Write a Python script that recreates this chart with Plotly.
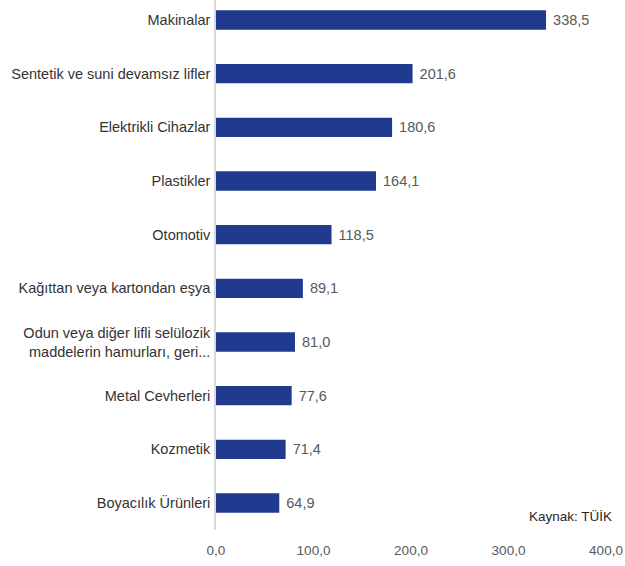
import plotly.graph_objects as go

categories = [
    "Makinalar",
    "Sentetik ve suni devamsız lifler",
    "Elektrikli Cihazlar",
    "Plastikler",
    "Otomotiv",
    "Kağıttan veya kartondan eşya",
    "Odun veya diğer lifli selülozik<br>maddelerin hamurları, geri...",
    "Metal Cevherleri",
    "Kozmetik",
    "Boyacılık Ürünleri",
]
values = [338.5, 201.6, 180.6, 164.1, 118.5, 89.1, 81.0, 77.6, 71.4, 64.9]
value_labels = ["338,5", "201,6", "180,6", "164,1", "118,5", "89,1", "81,0", "77,6", "71,4", "64,9"]
tick_vals = [0, 100, 200, 300, 400]
tick_text = ["0,0", "100,0", "200,0", "300,0", "400,0"]

cats = categories[::-1]
vals = values[::-1]
labs = value_labels[::-1]

FONT = "Liberation Sans"

fig = go.Figure(go.Bar(
    y=cats, x=vals, orientation="h",
    marker=dict(color="#203A8F", line=dict(width=0)),
    text=[" " + t for t in labs], textposition="outside",
    textfont=dict(family=FONT, size=14.5, color="#595959"),
    cliponaxis=False, width=0.36, hoverinfo="skip",
))

fig.update_layout(
    width=625, height=566,
    margin=dict(l=216, r=19, t=0, b=36),
    paper_bgcolor="white", plot_bgcolor="white",
    showlegend=False,
    font=dict(family=FONT, size=14, color="#404040"),
    xaxis=dict(range=[0, 400], tickvals=tick_vals, ticktext=tick_text,
               showgrid=False, zeroline=False, showline=False,
               tickfont=dict(family=FONT, size=13.5, color="#595959"),
               ticks="", ticklabelstandoff=10),
    yaxis=dict(type="category", categoryorder="array", categoryarray=cats,
               range=[-0.503, 9.373], showgrid=False, zeroline=False,
               showline=True, linecolor="#D9D9D9", linewidth=1.5,
               ticks="", ticklabelstandoff=1,
               tickfont=dict(family=FONT, size=14.5, color="#333333")),
    annotations=[dict(text="Kaynak: TÜİK", xref="paper", yref="paper",
                      x=1.02, y=0.026, xanchor="right", yanchor="middle",
                      showarrow=False,
                      font=dict(family=FONT, size=13.5, color="#262626"))],
)

fig.write_html("out.html", config={"displayModeBar": False},
               post_script="document.body.style.margin='0';document.body.style.overflow='hidden';")
